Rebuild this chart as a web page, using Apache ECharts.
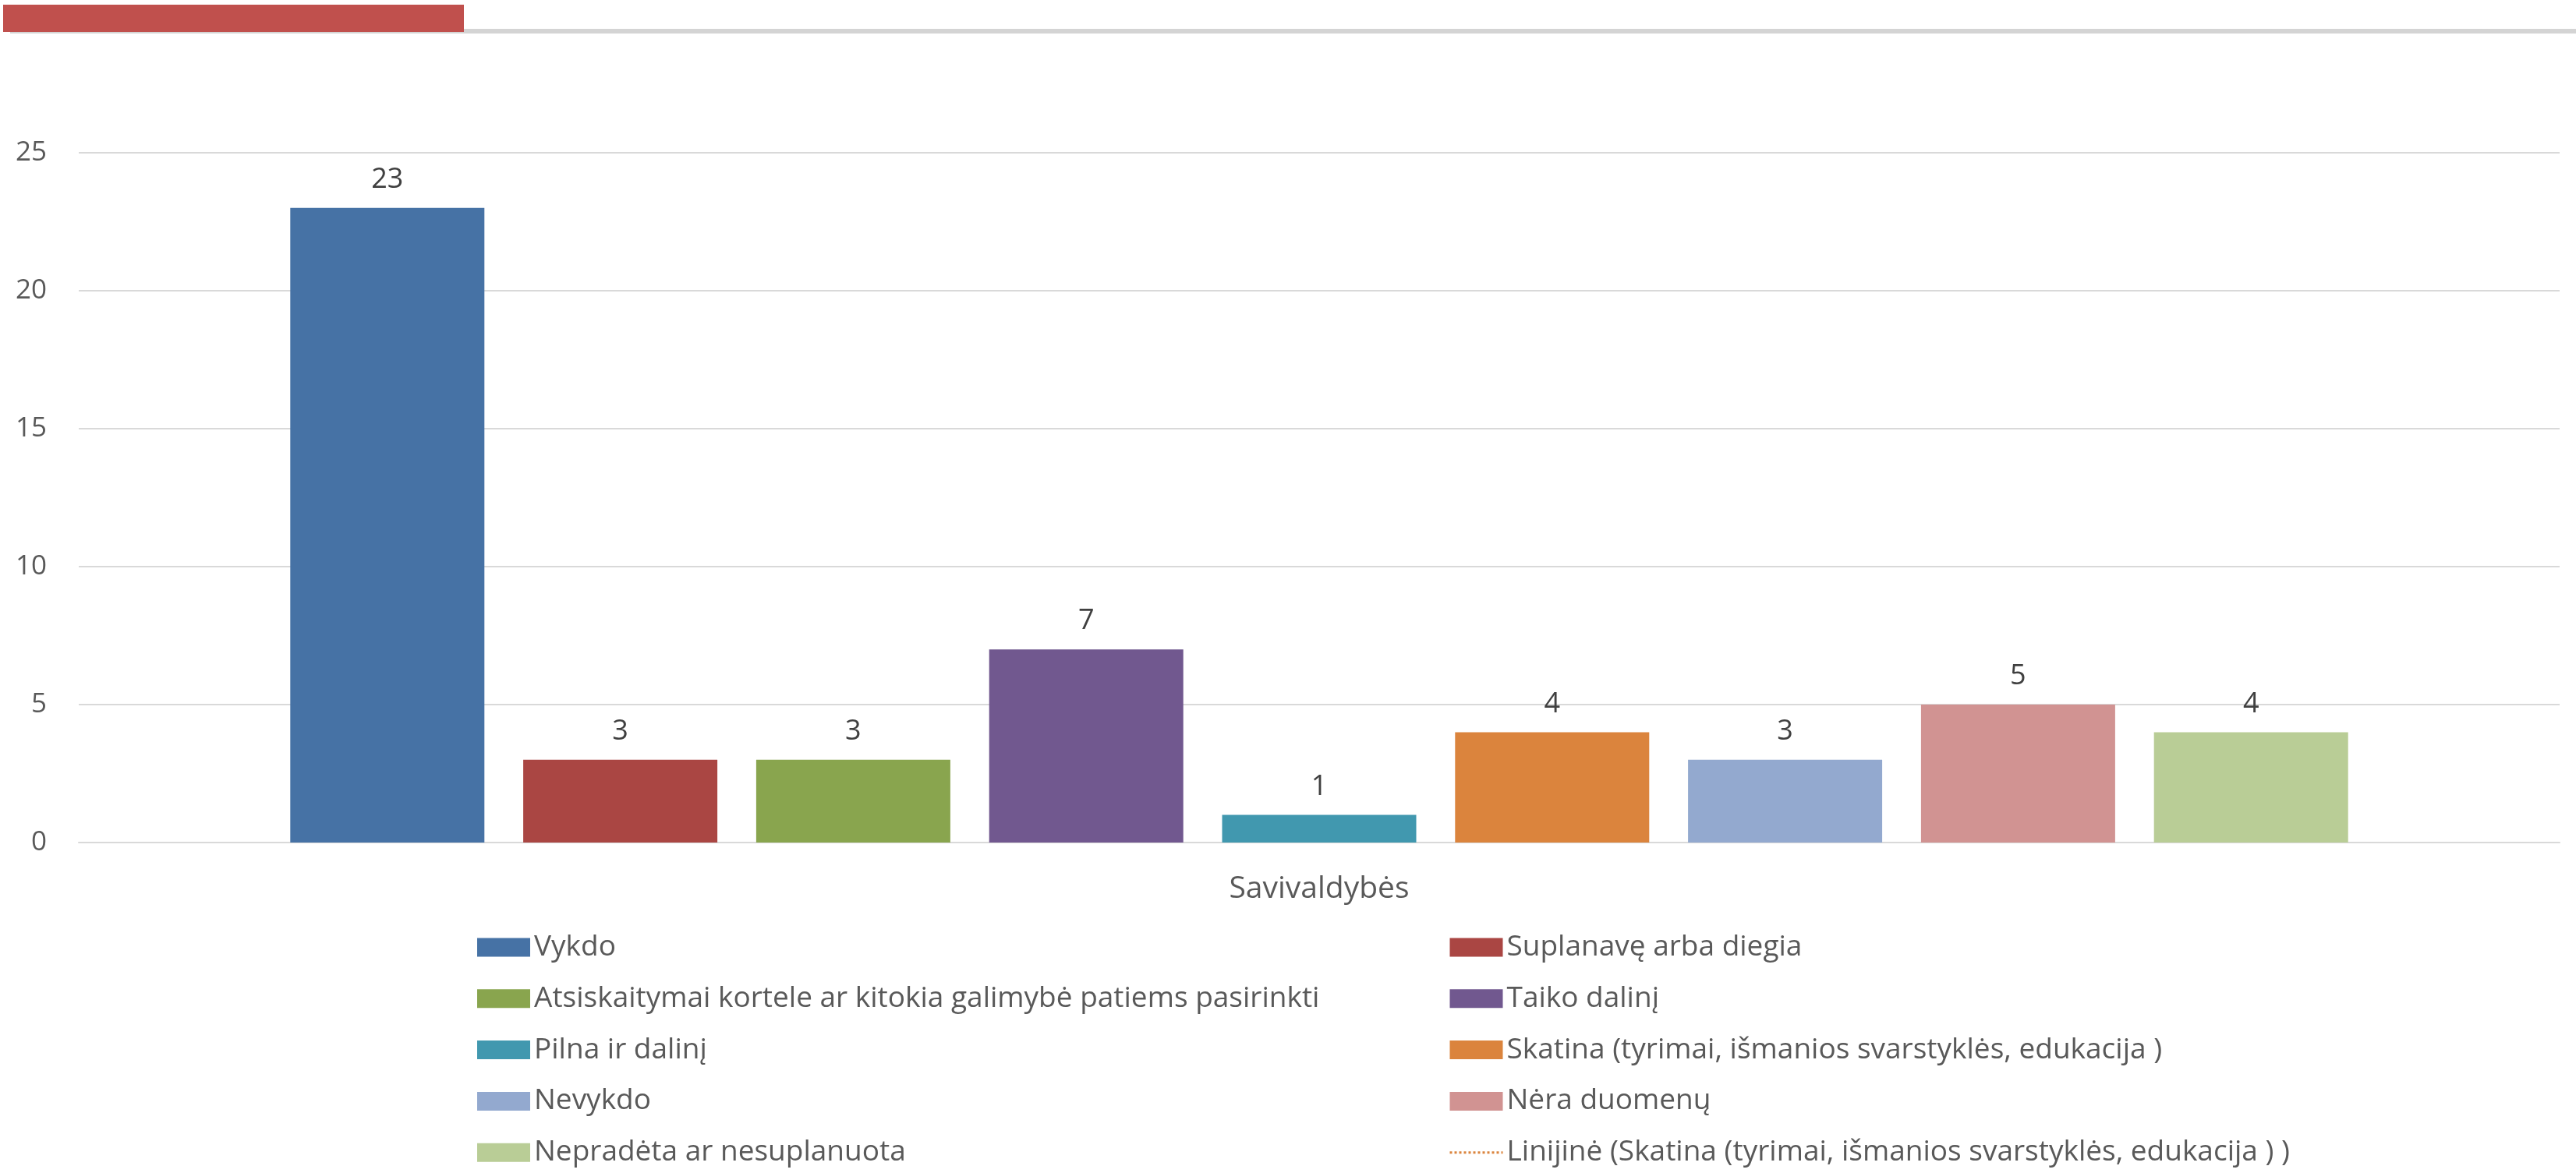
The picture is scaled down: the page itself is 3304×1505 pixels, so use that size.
<!DOCTYPE html>
<html>
<head>
<meta charset="utf-8">
<script src="https://cdn.jsdelivr.net/npm/echarts@6/dist/echarts.min.js"></script>
<style>
html,body{margin:0;padding:0;background:#fff;}
#chart{width:3304px;height:1505px;}
</style>
</head>
<body>
<div id="chart"></div>
<script>
var categories = ['Savivaldybės'];
var vykdo = [23];
var suplanave = [3];
var atsiskaitymai = [3];
var taikoDalini = [7];
var pilnaIrDalini = [1];
var skatina = [4];
var nevykdo = [3];
var neraDuomenu = [5];
var nepradeta = [4];
var yTicks = [0, 5, 10, 15, 20, 25];

var names = [
  'Vykdo',
  'Suplanavę arba diegia',
  'Atsiskaitymai kortele ar kitokia galimybė patiems pasirinkti',
  'Taiko dalinį',
  'Pilna ir dalinį',
  'Skatina (tyrimai, išmanios svarstyklės, edukacija )',
  'Nevykdo',
  'Nėra duomenų',
  'Nepradėta ar nesuplanuota'
];
var trendName = 'Linijinė (Skatina (tyrimai, išmanios svarstyklės, edukacija ) )';
var values = [vykdo, suplanave, atsiskaitymai, taikoDalini, pilnaIrDalini, skatina, nevykdo, neraDuomenu, nepradeta];
var colors = ['#4672A5', '#AA4643', '#89A54E', '#71588F', '#4198AF', '#DB843D', '#93A9CF', '#D19392', '#B9CD96'];

var FONT = '"Open Sans", "Noto Sans", sans-serif';

var series = names.map(function (n, i) {
  return {
    name: n,
    type: 'bar',
    data: values[i],
    barWidth: 249,
    barGap: '20%',
    itemStyle: { color: colors[i] },
    label: {
      show: true,
      position: 'top',
      distance: 18,
      fontSize: 36,
      fontFamily: FONT,
      color: '#404040'
    }
  };
});
series.push({
  name: trendName,
  type: 'line',
  data: skatina,
  symbol: 'none',
  showSymbol: false,
  itemStyle: { color: '#DB843D' },
  lineStyle: { type: 'dotted', color: '#DB843D', width: 3 }
});

var legendText = { fontSize: 37, fontFamily: FONT, color: '#595959' };
function legendItem(n) { return { name: n, icon: 'rect' }; }

var chart = echarts.init(document.getElementById('chart'));
chart.setOption({
  animation: false,
  backgroundColor: '#ffffff',
  graphic: [
    { type: 'rect', shape: { x: 13, y: 37, width: 3291, height: 6 }, style: { fill: '#D4D4D4' } },
    { type: 'rect', shape: { x: 4, y: 6, width: 591, height: 35 }, style: { fill: '#C0504D' } }
  ],
  grid: { left: 101, right: 21, top: 196, bottom: 424, containLabel: false },
  xAxis: {
    type: 'category',
    data: categories,
    axisLine: { lineStyle: { color: '#D9D9D9', width: 2 } },
    axisTick: { show: false },
    axisLabel: { fontSize: 39, fontFamily: FONT, color: '#595959', margin: 40 }
  },
  yAxis: {
    type: 'value',
    min: yTicks[0],
    max: yTicks[yTicks.length - 1],
    interval: 5,
    axisLine: { show: false },
    axisTick: { show: false },
    splitLine: { lineStyle: { color: '#D9D9D9', width: 2 } },
    axisLabel: { fontSize: 35, fontFamily: FONT, color: '#595959', margin: 41 }
  },
  legend: [
    {
      orient: 'vertical', left: 612, top: 1197, height: 400, padding: 0,
      itemWidth: 68, itemHeight: 24, itemGap: 28.8,
      selectedMode: false,
      textStyle: legendText,
      data: [names[0], names[2], names[4], names[6], names[8]].map(legendItem)
    },
    {
      orient: 'vertical', left: 1858, top: 1197, height: 400, padding: 0,
      itemWidth: 68, itemHeight: 24, itemGap: 28.8,
      selectedMode: false,
      textStyle: legendText,
      data: [names[1], names[3], names[5], names[7]].map(legendItem).concat([{
        name: trendName,
        itemStyle: { opacity: 0 },
        lineStyle: { type: 'dotted', color: '#DB843D', width: 3, opacity: 1 }
      }])
    }
  ],
  series: series
});
</script>
</body>
</html>
